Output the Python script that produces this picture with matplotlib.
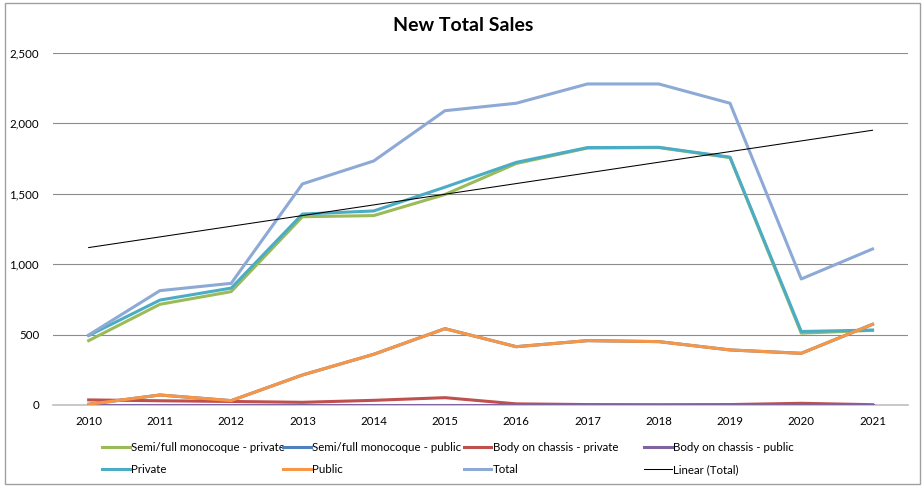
#importing necessary packages
import numpy as np
import matplotlib.pyplot as plt
from matplotlib.patches import Rectangle

# Data
years = ['2010', '2011', '2012', '2013', '2014', '2015', '2016', '2017', '2018', '2019', '2020', '2021']
semi_private = [457, 715, 805, 1337, 1345, 1495, 1715, 1825, 1828, 1757, 510, 530]
semi_public = [5, 71, 31, 213, 360, 542, 414, 457, 450, 391, 367, 573]
chassis_private = [36, 30, 25, 19, 33, 52, 8, 3, 2, 3, 12, 2]
chassis_public = [0, 0, 0, 0, 0, 0, 0, 0, 0, 0, 0, 0]
private = [493, 745, 830, 1356, 1378, 1547, 1723, 1828, 1830, 1760, 522, 532]
public = [5, 71, 31, 213, 360, 542, 414, 457, 450, 391, 367, 573]
total = [497, 812, 864, 1570, 1733, 2090, 2143, 2280, 2280, 2143, 895, 1108]

plt.rcParams['font.family'] = ['Lato', 'DejaVu Sans']

fig = plt.figure(figsize=(9.22, 4.86), dpi=100)
ax = fig.add_axes([0.0575, 0.1667, 0.9275, 0.7243])

x = np.arange(len(years))
series = [
    ('Semi/full monocoque - private', semi_private, '#9BBB59'),
    ('Semi/full monocoque - public', semi_public, '#4F81BD'),
    ('Body on chassis - private', chassis_private, '#C0504D'),
    ('Body on chassis - public', chassis_public, '#8064A2'),
    ('Private', private, '#4BACC6'),
    ('Public', public, '#F79646'),
    ('Total', total, '#8DA9D6'),
]
handles = []
for label, vals, col in series:
    h, = ax.plot(x, vals, color=col, linewidth=2.2, label=label, zorder=3)
    handles.append(h)

# linear trendline of the total
coef = np.polyfit(x, total, 1)
h, = ax.plot(x, np.polyval(coef, x), color='black', linewidth=0.75, label='Linear (Total)', zorder=4)
handles.append(h)

# axes styling
ax.set_xlim(-0.5, 11.5)
ax.set_ylim(0, 2500)
ax.set_yticks(range(0, 2501, 500))
ax.yaxis.set_major_formatter(plt.FuncFormatter(lambda v, p: f'{int(v):,}'))
ax.set_xticks(x)
ax.set_xticklabels(years)
ax.grid(axis='y', color='#8c8c8c', linewidth=0.8)
ax.set_axisbelow(True)
for s in ['top', 'right', 'left']:
    ax.spines[s].set_visible(False)
ax.spines['bottom'].set_color('#bfbfbf')
ax.spines['bottom'].set_linewidth(1.2)
ax.spines['bottom'].set_zorder(1)
ax.tick_params(axis='both', length=0, labelsize=8.3, colors='black')
ax.tick_params(axis='y', pad=10)
ax.tick_params(axis='x', pad=8)

fig.text(0.502, 0.948, 'New Total Sales', ha='center', va='center', fontsize=14, fontweight='bold')

# legend: one small legend per column so the columns are evenly spaced
col_x = [0.111, 0.307, 0.503, 0.699]
for i in range(4):
    fig.legend(handles=handles[i::4], loc='upper left', bbox_to_anchor=(col_x[i], 0.091),
               frameon=False, fontsize=8.3, handlelength=2.4, handletextpad=0.1,
               labelspacing=1.0, borderaxespad=0, borderpad=0)

# outer border of the chart
fig.patches.append(Rectangle((0.005, 0.004), 0.993, 0.99, transform=fig.transFigure,
                             fill=False, edgecolor='#a0a0a0', linewidth=1))

fig.savefig('out.png', dpi=100)
